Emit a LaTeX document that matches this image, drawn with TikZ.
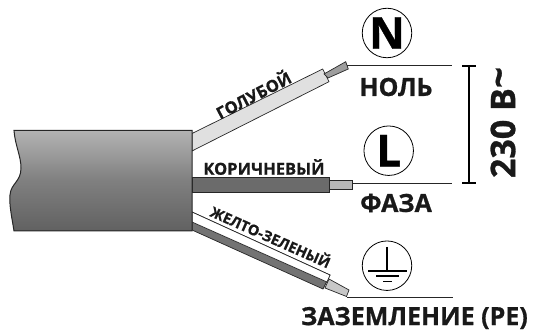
\documentclass[tikz,border=0pt]{standalone}
\usepackage{fontspec}
\setmainfont[BoldFeatures={FakeBold=0.8}]{Open Sans}
\tikzset{
  x=1pt,y=-1pt,
  wire/.style={draw=black!85,line width=.7pt,line join=miter},
  lead/.style={draw=black!85,line width=.9pt},
  sym/.style={circle,draw=black,line width=.8pt,minimum size=49.5pt,inner sep=0pt,font=\bfseries\fontsize{44}{44}\selectfont},
  lab/.style={inner sep=0pt,font=\bfseries\fontsize{25}{26}\selectfont,text=black!90},
  wlab/.style={inner sep=0pt,font=\bfseries\fontsize{16.5}{17}\selectfont,text=black!90},
}
\begin{document}
\begin{tikzpicture}
\useasboundingbox (0,0) rectangle (533,331);
% wires
\path[wire,fill=black!12] (192,133.5) -- (322.7,69) -- (329,81.7) -- (192,151) -- cycle;
\path[wire,fill=black!38] (324,74) -- (345.7,61.7) -- (348.3,69) -- (328,78) -- cycle;
\path[wire,fill=black!58] (192,177.3) -- (329,177.3) -- (329,192.7) -- (192,192.7) -- cycle;
\path[wire,fill=black!28] (329,180.7) -- (352,180.7) -- (352,189.3) -- (329,189.3) -- cycle;
\path[draw=black!85,line width=.7pt,fill=black!55] (192,212) -- (330,275) -- (323,289) -- (192,230) -- cycle;
\path[draw=black!85,line width=.7pt,fill=white] (192,212) -- (330,275) -- (327,282) -- (192,222) -- cycle;
\path[wire,fill=black!22] (329,279) -- (349,290) -- (346.5,296.5) -- (325,288) -- cycle;
% cable
\path[draw=black!85,line width=1pt,top color=black!30,bottom color=black!62,middle color=black!50]
  (14,130.5) -- (192,130.5) -- (192,231) -- (14,231)
  .. controls (12,218) and (9,205) .. (10,195)
  .. controls (11,183) and (21,182) .. (21,168)
  .. controls (21,156) and (15,145) .. (14,130.5) -- cycle;
% symbols
\node[sym] (N) at (387,33) {N};
\node[sym] (L) at (388.7,150.7) {L};
\node[sym] (PE) at (387,265.7) {};
\draw[line width=1.3pt] (387,247) -- (387,271);
\draw[line width=1.6pt] (368,271) -- (407,271);
\draw[line width=1.6pt] (376,276) -- (399,276);
\draw[line width=1.6pt] (383,281.7) -- (392,281.7);
% leads
\coordinate (nw) at (347,65); \coordinate (ne) at (452,65);
\coordinate (lw) at (352,183.3); \coordinate (le) at (452,183.3);
\coordinate (pw) at (346.5,297.5); \coordinate (pe) at (452.7,297.5);
\draw[lead] (nw) -- (ne);
\draw[lead] (lw) -- (le);
\draw[lead] (pw) -- (pe);
% bracket
\coordinate (bt) at (469,66); \coordinate (bb) at (469,183);
\draw[line width=1.1pt] (bt) -- (bb);
\draw[line width=1.4pt] (462,66) -- (476,66);
\draw[line width=1.4pt] (462,183) -- (476,183);
% labels
\node[lab] (tn) at (396,87) {НОЛЬ};
\node[lab] (tl) at (396,203) {ФАЗА};
\node[lab] (tp) at (414.5,318) {ЗАЗЕМЛЕНИЕ (PE)};
\node[lab,rotate=90,font=\bfseries\fontsize{34}{35}\selectfont] (tv) at (503,122.5) {230 В\raisebox{.1em}{\resizebox{.62em}{!}{\textasciitilde}}};
\node[wlab,rotate=27.5] (tg) at (253,94) {ГОЛУБОЙ};
\node[wlab] (tk) at (264,167) {КОРИЧНЕВЫЙ};
\node[wlab,rotate=-24,font=\bfseries\fontsize{14.5}{15}\selectfont] (ty) at (271,236) {ЖЕЛТО-ЗЕЛЕНЫЙ};
\end{tikzpicture}
\end{document}
